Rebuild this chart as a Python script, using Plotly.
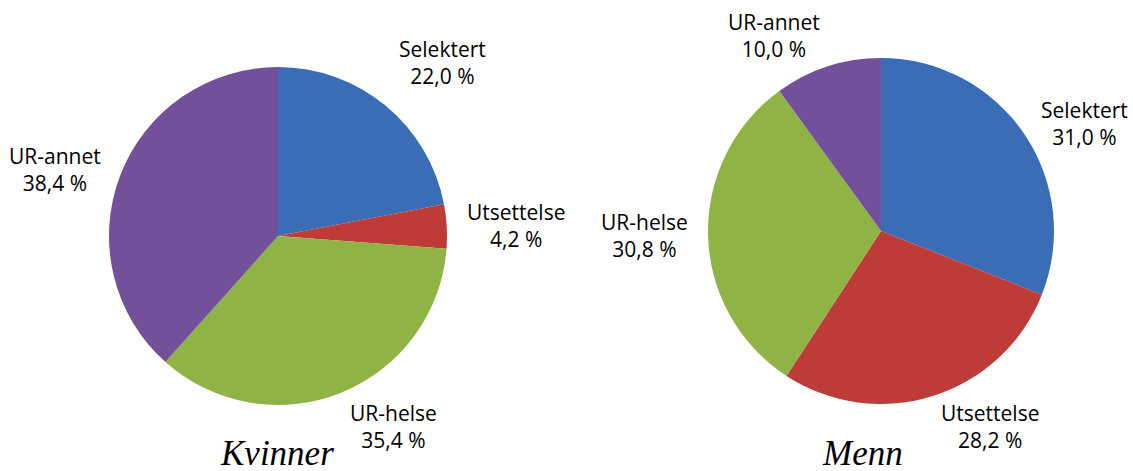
import math
import plotly.graph_objects as go

categories = ["Selektert", "Utsettelse", "UR-helse", "UR-annet"]
kvinner_values = [22.0, 4.2, 35.4, 38.4]
menn_values = [31.0, 28.2, 30.8, 10.0]
titles = ["Kvinner", "Menn"]
colors = ["#3A6DB5", "#BE3C38", "#90B345", "#73519A"]

W, H = 1133, 471
# pie placement (pixels): center x, center y, radius
pies = [
    dict(values=kvinner_values, cx=278, cy=236, r=169, title=titles[0], tx=277),
    dict(values=menn_values, cx=881, cy=231, r=173, title=titles[1], tx=862),
]
label_gap = 18
label_font = dict(family="Open Sans", size=21, color="#000000")
box_h = 55          # approx. height of a two-line label
area_top, area_bottom = 10, 452   # labels kept inside this band

fig = go.Figure()
annotations = []

def fmt(v):
    return f"{v:.1f}".replace(".", ",") + " %"

for p in pies:
    x0 = (p["cx"] - p["r"]) / W
    x1 = (p["cx"] + p["r"]) / W
    y0 = 1 - (p["cy"] + p["r"]) / H
    y1 = 1 - (p["cy"] - p["r"]) / H
    fig.add_trace(go.Pie(
        labels=categories,
        values=p["values"],
        sort=False,
        direction="clockwise",
        rotation=0,
        textinfo="none",
        hoverinfo="label+percent",
        marker=dict(colors=colors, line=dict(width=0)),
        domain=dict(x=[x0, x1], y=[y0, y1]),
        showlegend=False,
    ))
    total = sum(p["values"])
    cum = 0.0
    for name, v in zip(categories, p["values"]):
        mid = (cum + v / 2) / total * 2 * math.pi
        cum += v
        dx, dy = math.sin(mid), -math.cos(mid)
        R = p["r"] + label_gap
        px = p["cx"] + R * dx
        py = p["cy"] + R * dy
        xa = "left" if dx > 0.25 else ("right" if dx < -0.25 else "center")
        ya = "bottom" if dy < -0.6 else ("top" if dy > 0.4 else "middle")
        if ya == "bottom":
            py = max(py, area_top + box_h)
        elif ya == "top":
            py = min(py, area_bottom - box_h)
        annotations.append(dict(
            x=px / W, y=1 - py / H, xref="paper", yref="paper",
            xanchor=xa, yanchor=ya, showarrow=False, align="center",
            text=f"{name}<br>{fmt(v)}", font=label_font,
        ))
    annotations.append(dict(
        x=p["tx"] / W, y=0, xref="paper", yref="paper",
        xanchor="center", yanchor="bottom", yshift=-4, showarrow=False,
        text=f"<i>{p['title']}</i>",
        font=dict(family="Liberation Serif", size=35, color="#000000"),
    ))

fig.update_layout(
    width=W, height=H,
    margin=dict(l=0, r=0, t=0, b=0),
    paper_bgcolor="white", plot_bgcolor="white",
    annotations=annotations,
)

fig.write_html("out.html", config={"displayModeBar": False},
               post_script="document.body.style.margin='0';")
